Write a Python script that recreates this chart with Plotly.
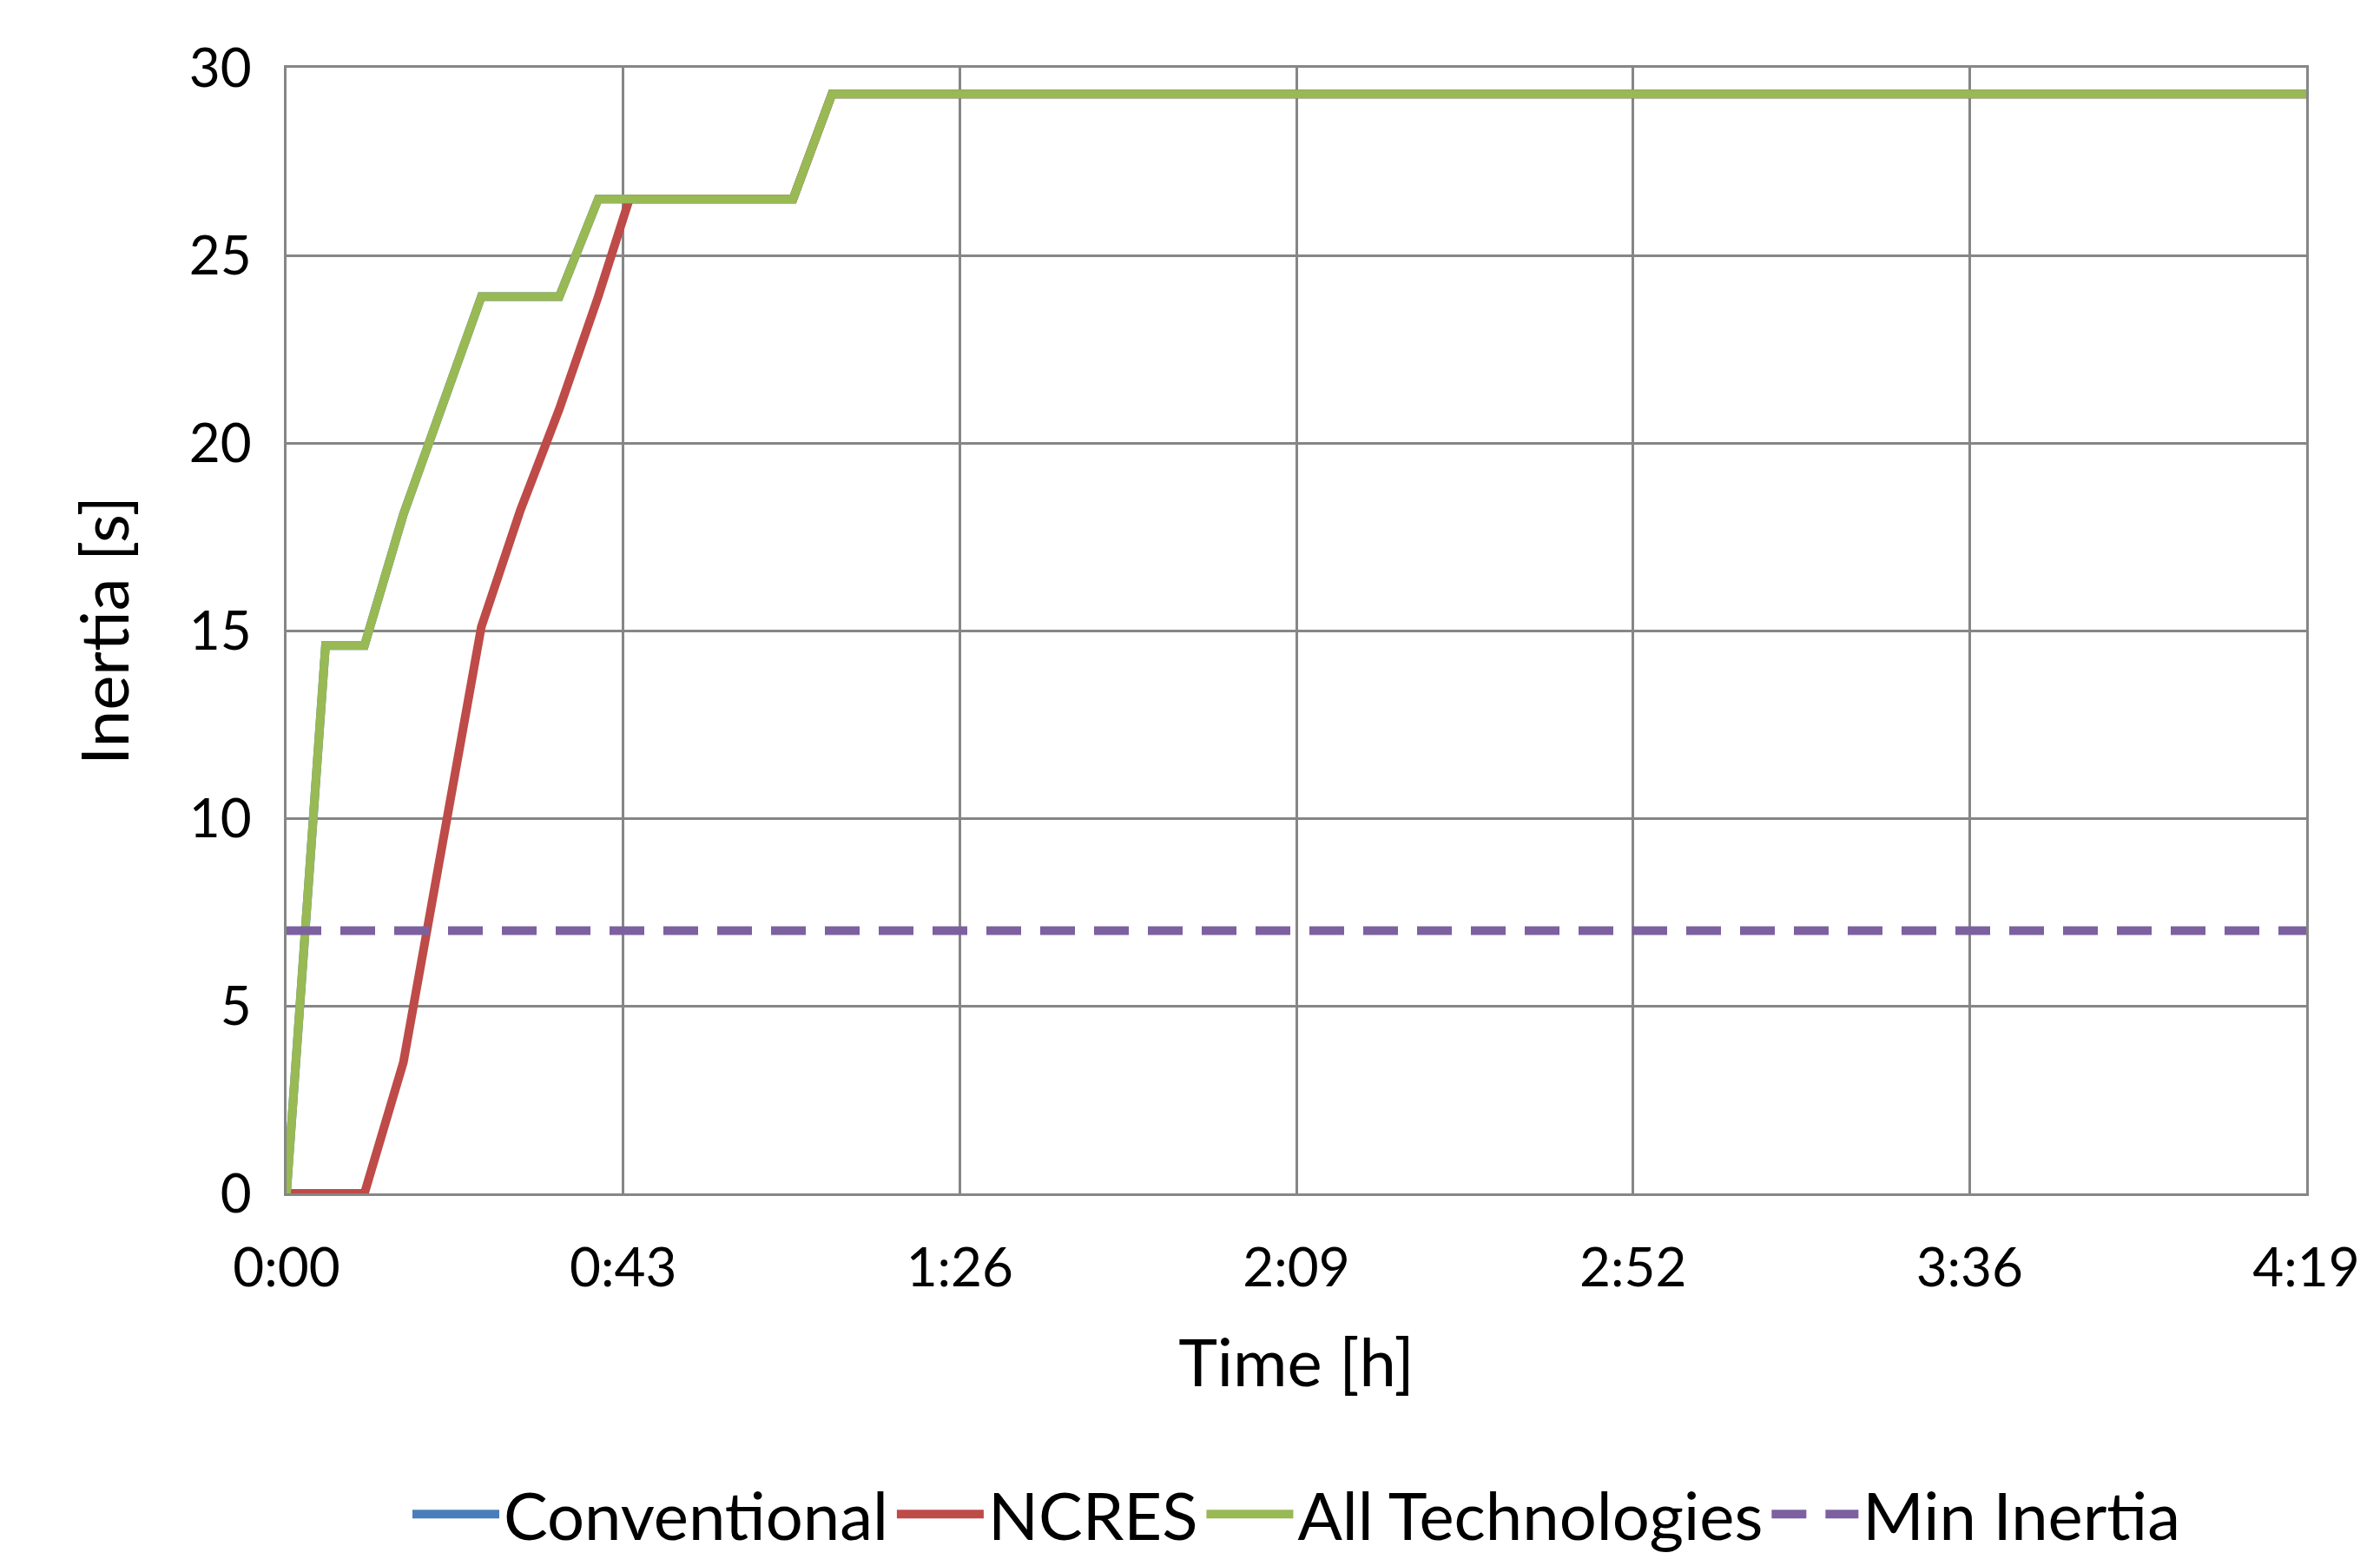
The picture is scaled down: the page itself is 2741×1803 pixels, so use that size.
import plotly.graph_objects as go

# time in minutes
time_min = [0, 5, 10, 15, 20, 25, 30, 35, 40, 44, 45, 50, 55, 60, 65, 70, 100, 150, 200, 259.2]
conventional = [0, 14.6, 14.6, 18.1, 21.0, 23.9, 23.9, 23.9, 26.5, 26.5, 26.5, 26.5, 26.5, 26.5, 26.5, 29.3, 29.3, 29.3, 29.3, 29.3]
ncres = [0, 0, 0, 3.5, 9.3, 15.1, 18.2, 20.9, 23.9, 26.5, 26.5, 26.5, 26.5, 26.5, 26.5, 29.3, 29.3, 29.3, 29.3, 29.3]
all_tech = [0, 14.6, 14.6, 18.1, 21.0, 23.9, 23.9, 23.9, 26.5, 26.5, 26.5, 26.5, 26.5, 26.5, 26.5, 29.3, 29.3, 29.3, 29.3, 29.3]
min_inertia = [7.0] * len(time_min)

tick_vals = [0, 43.2, 86.4, 129.6, 172.8, 216.0, 259.2]
tick_text = ['0:00', '0:43', '1:26', '2:09', '2:52', '3:36', '4:19']

fig = go.Figure()
fig.add_trace(go.Scatter(x=time_min, y=conventional, name='Conventional', mode='lines',
                         line=dict(color='#4a7ebb', width=10)))
fig.add_trace(go.Scatter(x=time_min, y=ncres, name='NCRES', mode='lines',
                         line=dict(color='#be4b48', width=10)))
fig.add_trace(go.Scatter(x=time_min, y=all_tech, name='All Technologies', mode='lines',
                         line=dict(color='#98b954', width=10)))
fig.add_trace(go.Scatter(x=time_min, y=min_inertia, name='Min Inertia', mode='lines',
                         line=dict(color='#7d60a0', width=10, dash='40px,22px')))

fig.update_layout(
    width=2741, height=1803,
    paper_bgcolor='white', plot_bgcolor='white',
    font=dict(family='Lato', size=62, color='black'),
    margin=dict(l=322, r=93, t=70, b=437, autoexpand=False),
    legend=dict(orientation='h', x=0.5, xanchor='center', y=-0.285, yanchor='middle',
                font=dict(size=76), itemwidth=100, entrywidthmode='pixels'),
)
fig.update_xaxes(
    range=[0, 259.2], tickvals=tick_vals, ticktext=tick_text,
    showgrid=True, gridcolor='#868686', gridwidth=3,
    showline=True, linecolor='#868686', linewidth=3, mirror=True,
    ticks='', ticklabelstandoff=30,
    title=dict(text='Time [h]', font=dict(size=76), standoff=50),
    zeroline=False,
)
fig.update_yaxes(
    range=[0, 30], dtick=5,
    showgrid=True, gridcolor='#868686', gridwidth=3,
    showline=True, linecolor='#868686', linewidth=3, mirror=True,
    ticks='', ticklabelstandoff=25,
    title=dict(text='Inertia [s]', font=dict(size=76), standoff=45),
    zeroline=False,
)
fig.write_html('out.html')
